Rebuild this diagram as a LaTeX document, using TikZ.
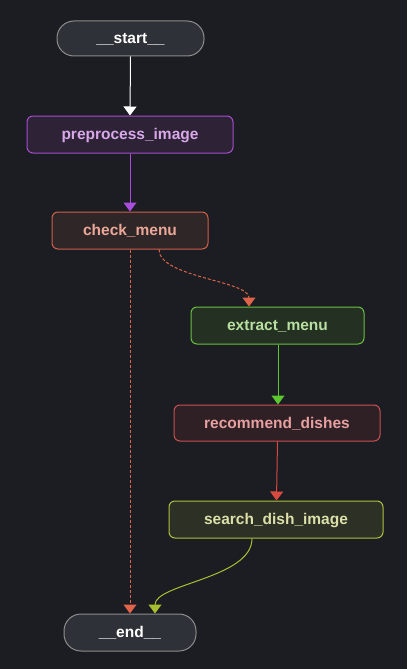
\documentclass[tikz,border=0pt]{standalone}
\usepackage{fontspec}
\setmainfont{Liberation Sans}
\usetikzlibrary{arrows.meta}
\definecolor{bg}{HTML}{1B1D23}
\definecolor{startfill}{HTML}{2E3138}
\definecolor{startdraw}{HTML}{8C8C8C}
\definecolor{ppfill}{HTML}{2D2236}
\definecolor{ppdraw}{HTML}{A84DD0}
\definecolor{pptext}{HTML}{D8A8E8}
\definecolor{cmfill}{HTML}{2F2628}
\definecolor{cmdraw}{HTML}{D0604A}
\definecolor{cmtext}{HTML}{EBA898}
\definecolor{emfill}{HTML}{243022}
\definecolor{emdraw}{HTML}{6ABF40}
\definecolor{emtext}{HTML}{B8E0A0}
\definecolor{rdfill}{HTML}{2E2025}
\definecolor{rddraw}{HTML}{C85050}
\definecolor{rdtext}{HTML}{E8A0A0}
\definecolor{sdfill}{HTML}{2C3025}
\definecolor{sddraw}{HTML}{B0C040}
\definecolor{sdtext}{HTML}{DDE0A8}
\definecolor{aPurple}{HTML}{A84DDC}
\definecolor{aOrange}{HTML}{E0644A}
\definecolor{aGreen}{HTML}{5CC830}
\definecolor{aRed}{HTML}{D84A40}
\definecolor{aYellow}{HTML}{A8C030}
\tikzset{
  lbl/.style={font=\fontsize{15.5}{17}\selectfont\bfseries, text height=11.5pt, text depth=1pt},
  box/.style={rectangle, rounded corners=6pt, line width=1pt, inner sep=0pt, lbl},
  term/.style={rectangle, rounded corners=17pt, line width=1pt, inner sep=0pt, lbl, fill=startfill, draw=startdraw, text=white},
  edge/.style={line width=1pt, -{Triangle[width=13pt,length=9pt]}},
  dashededge/.style={edge, dash pattern=on 3pt off 2pt},
}
\begin{document}
\begin{tikzpicture}[x=1pt,y=-1pt]
\fill[bg] (0,0) rectangle (407,669);
\useasboundingbox (0,0) rectangle (407,669);
\node[term, minimum width=147pt, minimum height=35pt] (start) at (130.5,38.5) {\_\_start\_\_};
\node[box, fill=ppfill, draw=ppdraw, text=pptext, minimum width=206pt, minimum height=37pt] (pp) at (130,134.5) {preprocess\_image};
\node[box, fill=cmfill, draw=cmdraw, text=cmtext, minimum width=156pt, minimum height=37pt] (cm) at (130,230.5) {check\_menu};
\node[box, fill=emfill, draw=emdraw, text=emtext, minimum width=173pt, minimum height=37pt] (em) at (277.5,325.5) {extract\_menu};
\node[box, fill=rdfill, draw=rddraw, text=rdtext, minimum width=206pt, minimum height=36pt] (rd) at (277,423) {recommend\_dishes};
\node[box, fill=sdfill, draw=sddraw, text=sdtext, minimum width=214pt, minimum height=37pt] (sd) at (276,519.5) {search\_dish\_image};
\node[term, minimum width=132pt, minimum height=37pt] (end) at (130,632.5) {\_\_end\_\_};

\draw[edge, white] (start.south) -- (pp.north);
\draw[edge, aPurple] (pp.south) -- (cm.north);
\draw[dashededge, aOrange] ([xshift=29pt]cm.south) .. controls +(0,28) and +(0,-26) .. ([xshift=-28.5pt]em.north);
\draw[dashededge, aOrange] (cm.south) -- (end.north);
\draw[edge, aGreen] ([xshift=0.5pt]em.south) -- ([xshift=1pt]rd.north);
\draw[edge, aRed] ([xshift=0.5pt]rd.south) -- ([xshift=0.5pt]sd.north);
\draw[edge, aYellow] ([xshift=-24pt]sd.south) .. controls +(0,40) and +(0,-30) .. ([xshift=25pt]end.north);
\end{tikzpicture}
\end{document}
